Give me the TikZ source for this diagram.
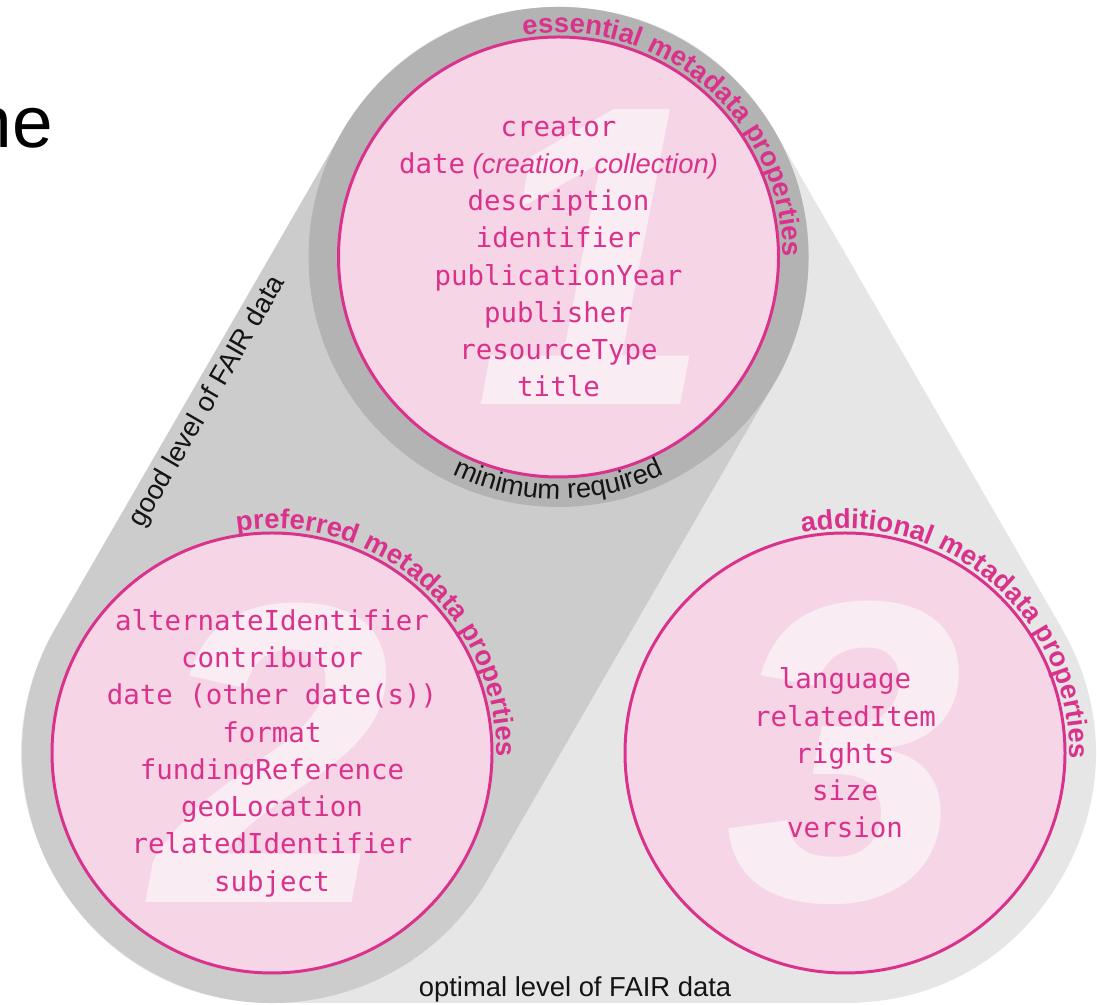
\documentclass[tikz,border=0pt]{standalone}
\usepackage{fontspec}
\setmainfont{Liberation Sans}
\setsansfont{Liberation Sans}
\setmonofont{DejaVu Sans Mono}
\usetikzlibrary{decorations.text}

\definecolor{fairpink}{RGB}{218,50,140}
\definecolor{fairfill}{RGB}{246,214,230}
\definecolor{ringgray}{RGB}{179,179,179}
\definecolor{hullgray}{RGB}{204,204,204}
\definecolor{fairlight}{RGB}{230,230,230}
\definecolor{inkblack}{RGB}{20,20,20}

\newcommand{\proplist}{\fontsize{15.6}{21.2}\selectfont\ttfamily}
\newcommand{\arclabel}{\fontsize{15.6}{18}\selectfont\bfseries}
\newcommand{\levelfont}{\fontsize{15.6}{18}\selectfont}

\tikzset{
  metacircle/.style={circle, draw=fairpink, line width=1.7pt, fill=fairfill, minimum size=8.8cm, inner sep=0pt},
  bignum/.style={text=white, text opacity=0.55, font=\fontsize{244}{244}\selectfont\bfseries\itshape, inner sep=0pt},
  proplines/.style={text=fairpink, align=center, font=\proplist},
  levellabel/.style={text=inkblack, font=\levelfont},
  arclabel/.style={decorate, decoration={text along path, text color=fairpink, text align={fit to path}}},
}

\begin{document}
\begin{tikzpicture}
    \useasboundingbox (0,0) rectangle (21.94,20.10);
    % centres of the three groups
    \coordinate (c1) at (11.17,14.96);
    \coordinate (c2) at (5.44,5.04);
    \coordinate (c3) at (16.90,5.04);

    % grey levels behind the circles
    \filldraw[fairlight, line width=10cm, line join=round] (c1) -- (c2) -- (c3) -- cycle;
    \draw[hullgray, line width=10cm, line cap=round] (c1) -- (c2);
    \fill[ringgray] (c1) circle[radius=5cm];

    % property circles
    \node[metacircle] (essential) at (c1) {};
    \node[metacircle] (preferred) at (c2) {};
    \node[metacircle] (additional) at (c3) {};

    \node[bignum] (num1) at ([xshift=0.7cm]essential) {1};
    \node[bignum] (num2) at (preferred) {2};
    \node[bignum] (num3) at (additional) {3};

    \node[proplines] (list1) at (essential) {creator\\ date{\sffamily\itshape\ (creation, collection)}\\ description\\ identifier\\ publicationYear\\ publisher\\ resourceType\\ title};
    \node[proplines] (list2) at (preferred) {alternateIdentifier\\ contributor\\ date (other date(s))\\ format\\ fundingReference\\ geoLocation\\ relatedIdentifier\\ subject};
    \node[proplines] (list3) at (additional) {language\\ relatedItem\\ rights\\ size\\ version};

    % labels round the circles
    \path[arclabel, decoration={text={|\arclabel|essential metadata properties}}]
        ([shift={(99:4.49)}]essential.center) arc[start angle=99, end angle=0, radius=4.49];
    \path[arclabel, decoration={text={|\arclabel|preferred metadata properties}}]
        ([shift={(99:4.49)}]preferred.center) arc[start angle=99, end angle=-1, radius=4.49];
    \path[arclabel, decoration={text={|\arclabel|additional metadata properties}}]
        ([shift={(101:4.49)}]additional.center) arc[start angle=101, end angle=-1.5, radius=4.49];
    \path[decorate, decoration={text along path, text color=inkblack, text align=center, text={|\levelfont|minimum required}}]
        ([shift={(-135:4.84)}]essential.center) arc[start angle=-135, end angle=-45, radius=4.84];

    % levels
    \node[levellabel, rotate=60] (good) at (4.16,12.06) {good level of FAIR data};
    \node[levellabel, anchor=base] (optimal) at (11.5,0.16) {optimal level of FAIR data};
    \node[anchor=base west, inner sep=0pt, font=\fontsize{41.5}{48}\selectfont] (title) at (-0.57,17.14) {ne};
\end{tikzpicture}
\end{document}
